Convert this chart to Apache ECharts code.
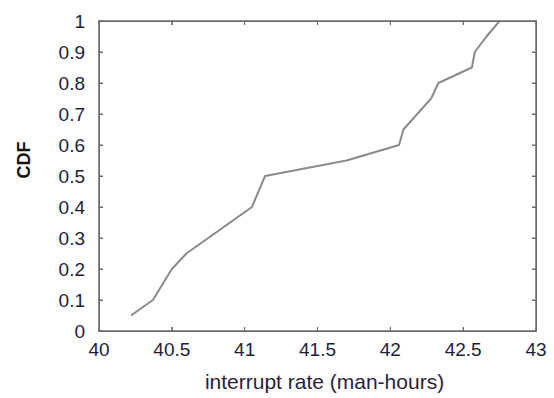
<!DOCTYPE html>
<html>
<head>
<meta charset="utf-8">
<script src="https://cdn.jsdelivr.net/npm/echarts@6/dist/echarts.min.js"></script>
<style>html,body{margin:0;padding:0;background:#fff}#c{width:554px;height:398px}</style>
</head>
<body>
<div id="c"></div>
<script>
const rateValues = [40.22, 40.37, 40.5, 40.6, 41.05, 41.14, 41.7, 42.06, 42.09, 42.28, 42.33, 42.56, 42.58, 42.66, 42.75];
const cdfValues  = [0.05, 0.10, 0.20, 0.25, 0.40, 0.50, 0.55, 0.60, 0.65, 0.75, 0.80, 0.85, 0.90, 0.95, 1.00];
const xTicks = ['40', '40.5', '41', '41.5', '42', '42.5', '43'];
const yTicks = ['0', '0.1', '0.2', '0.3', '0.4', '0.5', '0.6', '0.7', '0.8', '0.9', '1'];
const xTitle = 'interrupt rate (man-hours)';
const yTitle = 'CDF';

const chart = echarts.init(document.getElementById('c'), null, {renderer: 'svg'});
const font = 'Arial, "Liberation Sans", sans-serif';
const frameColor = '#6b6b6b';
const mkLine = () => ({show: true, onZero: false, lineStyle: {color: frameColor, width: 1}});
const mkTick = () => ({show: true, inside: true, length: 4, lineStyle: {color: frameColor, width: 1}});
chart.setOption({
  animation: false,
  grid: {left: 99, right: 18, top: 21, bottom: 67, containLabel: false},
  xAxis: [{
    type: 'value', min: 40, max: 43, interval: 0.5, position: 'bottom',
    axisLine: mkLine(), axisTick: mkTick(), splitLine: {show: false},
    axisLabel: {color: '#1e1e3a', fontSize: 19, fontFamily: font, margin: 9,
      formatter: v => xTicks[Math.round((v - 40) / 0.5)] },
    name: xTitle, nameLocation: 'middle', nameGap: 40,
    nameTextStyle: {color: '#2a1e3a', fontSize: 21, fontFamily: font, padding: [0, 0, 0, 14]}
  }, {
    type: 'value', min: 40, max: 43, interval: 0.5, position: 'top',
    axisLine: mkLine(), axisTick: mkTick(), axisLabel: {show: false}, splitLine: {show: false}
  }],
  yAxis: [{
    type: 'value', min: 0, max: 1, interval: 0.1, position: 'left',
    axisLine: mkLine(), axisTick: mkTick(), splitLine: {show: false},
    axisLabel: {color: '#1e1e3a', fontSize: 19, fontFamily: font, margin: 14,
      formatter: v => yTicks[Math.round(v * 10)] }
  }, {
    type: 'value', min: 0, max: 1, interval: 0.1, position: 'right',
    axisLine: mkLine(), axisTick: mkTick(), axisLabel: {show: false}, splitLine: {show: false}
  }],
  series: [{
    type: 'line', xAxisIndex: 0, yAxisIndex: 0,
    data: rateValues.map((x, i) => [x, cdfValues[i]]),
    showSymbol: false, symbol: 'none',
    lineStyle: {color: '#8a8a8a', width: 2}
  }]
});

// Frame and inward ticks, positioned through the chart's own scales
const px = (x, y) => chart.convertToPixel({xAxisIndex: 0, yAxisIndex: 0}, [x, y]);
const lo = px(40, 0), hi = px(43, 1);
const L = lo[0], B = lo[1], R = hi[0], T = hi[1];
const g = [{
  type: 'rect', z: 100, silent: true,
  shape: {x: L, y: T, width: R - L, height: B - T},
  style: {fill: 'none', stroke: frameColor, lineWidth: 1.5}
}];
xTicks.forEach(t => {
  const xp = px(parseFloat(t), 0)[0];
  g.push({type: 'line', z: 100, silent: true, shape: {x1: xp, y1: B, x2: xp, y2: B - 4}, style: {stroke: frameColor, lineWidth: 1}});
  g.push({type: 'line', z: 100, silent: true, shape: {x1: xp, y1: T, x2: xp, y2: T + 4}, style: {stroke: frameColor, lineWidth: 1}});
});
yTicks.forEach(t => {
  const yp = px(40, parseFloat(t))[1];
  g.push({type: 'line', z: 100, silent: true, shape: {x1: L, y1: yp, x2: L + 4, y2: yp}, style: {stroke: frameColor, lineWidth: 1}});
  g.push({type: 'line', z: 100, silent: true, shape: {x1: R, y1: yp, x2: R - 4, y2: yp}, style: {stroke: frameColor, lineWidth: 1}});
});
g.push({
  type: 'text', x: 24, y: 160, rotation: Math.PI / 2, z: 100,
  style: {text: yTitle, fontSize: 18, fontWeight: 'bold', fontFamily: font, fill: '#111',
          align: 'center', verticalAlign: 'middle'}
});
chart.setOption({graphic: g});
</script>
</body>
</html>
